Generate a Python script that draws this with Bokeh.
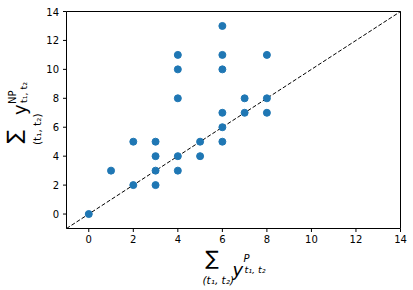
import math
from bokeh.plotting import figure
from bokeh.models import Range1d
from bokeh.embed import file_html
from bokeh.resources import INLINE
from bokeh.core.properties import value

# data
x_vals = [0, 1, 2, 2, 3, 3, 3, 3, 4, 4, 4, 4, 4, 5, 5, 6, 6, 6, 6, 6, 6, 7, 7, 8, 8, 8]
y_vals = [0, 3, 2, 5, 2, 3, 4, 5, 3, 4, 8, 10, 11, 4, 5, 5, 6, 7, 10, 11, 13, 7, 8, 7, 8, 11]
diag = [-1, 14]
ticks = [0, 2, 4, 6, 8, 10, 12, 14]
tick_labels = [str(t) for t in ticks]

XMIN, XMAX, YMIN, YMAX = -1, 14, -1, 14

# layout (pixels of the 413x290 canvas)
W, H = 413, 290
FL, FR, FT, FB = 66, 400, 11, 228          # plot box edges
DX = (XMAX - XMIN) / (FR - FL)            # data per pixel
DY = (YMAX - YMIN) / (FB - FT)

p = figure(width=W, height=H, output_backend="svg", toolbar_location=None,
           x_range=Range1d(XMIN - FL * DX, XMIN + (W - FL) * DX),
           y_range=Range1d(YMIN - (H - FB) * DY, YMIN + FB * DY),
           min_border=0)
p.axis.visible = False
p.grid.visible = False
p.outline_line_color = None
p.background_fill_color = "white"
p.border_fill_color = "white"

def wx(px):
    return XMIN + (px - FL) * DX

def wy(py):
    return YMIN + (FB - py) * DY

# data marks
p.line(diag, diag, line_color="black", line_width=1, line_dash="4 2")
p.scatter(x_vals, y_vals, size=7, fill_color="#1f77b4", line_color="#1f77b4")

# y-axis label (rotated 90 degrees): sum over (t1,t2) of y^NP_{t1,t2}
# anchor = bottom-left corner of each text box before rotation
A = math.pi / 2
def rot(text, px, py, size):
    p.text(x=[wx(px)], y=[wy(py)], text=[text], angle=A,
           text_font=value("DejaVu Sans"), text_font_size=f"{size}px")

cx, cy = 14, 135
rot("∑", cx + 11.6, cy + 8, 20)
rot("(t₁, t₂)", cx + 28, cy + 9.5, 10.5)
rot("y", cx + 15.8, cy - 20.5, 18)
rot("NP", cx + 3.4, cy - 31.5, 10)
rot("t₁, t₂", cx + 14.2, cy - 32.5, 9.5)

# plot box
p.quad(left=[XMIN], right=[XMAX], bottom=[YMIN], top=[YMAX],
       fill_color=None, line_color="black", line_width=1)

# ticks
TL = 3.5
n = len(ticks)
p.segment(x0=ticks, y0=[YMIN] * n, x1=ticks, y1=[YMIN - TL * DY] * n, line_color="black", line_width=1)
p.segment(x0=[XMIN] * n, y0=ticks, x1=[XMIN - TL * DX] * n, y1=ticks, line_color="black", line_width=1)

# tick labels
p.text(x=ticks, y=[wy(FB + TL + 2.5)] * n, text=tick_labels, text_font=value("DejaVu Sans"),
       text_font_size="10px", text_align="center", text_baseline="top", text_color="black")
p.text(x=[wx(FL - TL - 4)] * n, y=ticks, text=tick_labels, text_font=value("DejaVu Sans"),
       text_font_size="10px", text_align="right", text_baseline="middle", text_color="black")

# x-axis label: sum over (t1,t2) of y^P_{t1,t2}
def lab(text, px, py, size, italic=False, align="left", baseline="alphabetic"):
    kw = dict(text_font_style="italic") if italic else {}
    p.text(x=[wx(px)], y=[wy(py)], text=[text], text_font=value("DejaVu Sans"),
           text_font_size=f"{size}px", text_align=align, text_baseline=baseline,
           text_color="black", **kw)

lab("∑", 211.5, 257, 20, align="center", baseline="middle")
lab("(t₁, t₂)", 202, 279, 10.5, italic=True, baseline="middle")
lab("y", 232, 268.5, 18, italic=True)
lab("P", 243, 258, 10, italic=True)
lab("t₁, t₂", 244, 269, 9.5, italic=True)

open("out.html", "w").write(file_html(p, INLINE))
